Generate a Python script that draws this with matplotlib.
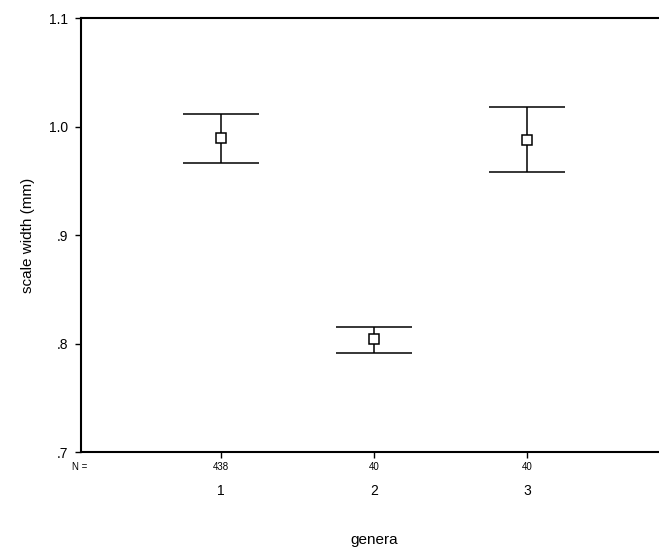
import matplotlib
matplotlib.use("Agg")
import matplotlib.pyplot as plt

plt.rcParams['font.family'] = ['Liberation Sans', 'DejaVu Sans']

# data
groups = [1, 2, 3]
group_labels = ["1", "2", "3"]
n_counts = ["438", "40", "40"]
means = [0.989, 0.8046, 0.9878]
upper = [1.0113, 0.8156, 1.018]
lower = [0.9667, 0.7917, 0.958]

yticks = [0.7, 0.8, 0.9, 1.0, 1.1]
ytick_labels = [".7", ".8", ".9", "1.0", "1.1"]

fig = plt.figure(figsize=(6.59, 5.56), dpi=100)
ax = fig.add_axes([0.1229, 0.187, 0.877, 0.7806])

cap = 0.25
for x, m, lo, hi in zip(groups, means, lower, upper):
    ax.vlines(x, lo, hi, color="black", lw=1.1)
    ax.hlines([lo, hi], x - cap, x + cap, color="black", lw=1.1)
    ax.plot(x, m, marker="s", ms=6.5, mfc="white", mec="black", mew=1.1, ls="none")

ax.set_xlim(0.085, 3.863)
ax.set_ylim(0.7, 1.1)
ax.set_yticks(yticks)
ax.set_yticklabels(ytick_labels, fontsize=10)
ax.set_xticks(groups)
ax.set_xticklabels(n_counts, fontsize=7)
ax.tick_params(axis="y", direction="out", length=4, width=1, pad=5)
ax.tick_params(axis="x", direction="out", length=4, width=1, pad=3)

for side in ["left", "top", "bottom"]:
    ax.spines[side].set_linewidth(1.5)
ax.spines["right"].set_visible(False)

# group labels below the N counts
for x, lab in zip(groups, group_labels):
    ax.text(x, -0.09, lab, transform=ax.get_xaxis_transform(),
            ha="center", va="center", fontsize=10)
ax.text(80 / 659, 1 - 467 / 556, "N =", transform=fig.transFigure,
        ha="center", va="center", fontsize=7)

ax.set_ylabel("scale width (mm)", fontsize=11, labelpad=10)
fig.text(374 / 659, 1 - 540 / 556, "genera", ha="center", va="center", fontsize=11)

fig.savefig("out.png", dpi=100)
